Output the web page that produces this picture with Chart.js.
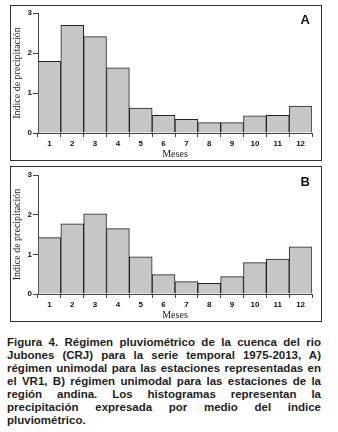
<!DOCTYPE html>
<html>
<head>
<meta charset="utf-8">
<script src="https://cdn.jsdelivr.net/npm/chart.js@4.4.1/dist/chart.umd.min.js"></script>
<style>
  body { margin: 0; width: 338px; height: 432px; background: #fff; position: relative; overflow: hidden; }
  .panel { position: absolute; left: 10px; width: 312px; height: 156px; border: 1px solid #333; box-sizing: border-box; }
  .panel canvas { display: block; }
  #caption { position: absolute; left: 7px; top: 336px; width: 314px; font-family: "Liberation Sans", Arial, sans-serif;
    font-weight: bold; font-size: 11.5px; line-height: 13px; color: #1e1e1e; }
  #caption div { text-align: justify; text-align-last: justify; white-space: nowrap; }
  #caption div.last { text-align-last: left; }
</style>
</head>
<body>
<div class="panel" style="top:5px"><canvas id="chartA" width="310" height="154"></canvas></div>
<div class="panel" style="top:166px"><canvas id="chartB" width="310" height="154"></canvas></div>
<div id="caption">
  <div>Figura 4. Régimen pluviométrico de la cuenca del rio</div>
  <div>Jubones (CRJ) para la serie temporal 1975-2013, A)</div>
  <div>régimen unimodal para las estaciones representadas en</div>
  <div>el VR1, B) régimen unimodal para las estaciones de la</div>
  <div>región andina. Los histogramas representan la</div>
  <div>precipitación expresada por medio del indice</div>
  <div class="last">pluviométrico.</div>
</div>
<script>
// months on the x axis
const months = ["1", "2", "3", "4", "5", "6", "7", "8", "9", "10", "11", "12"];
// indice de precipitacion, panel A and panel B
const valuesA = [1.79, 2.69, 2.41, 1.63, 0.62, 0.44, 0.34, 0.26, 0.26, 0.43, 0.44, 0.67];
const valuesB = [1.42, 1.77, 2.02, 1.65, 0.94, 0.49, 0.31, 0.27, 0.44, 0.79, 0.88, 1.19];
const yTicks = [0, 1, 2, 3];

const panelLetter = {
    id: "panelLetter",
    afterDraw(chart, args, opts) {
        const ctx = chart.ctx;
        ctx.save();
        ctx.font = "bold 13px 'Liberation Sans', Arial, sans-serif";
        ctx.fillStyle = "#111";
        ctx.textAlign = "right";
        ctx.textBaseline = "middle";
        ctx.fillText(opts.text, chart.chartArea.right - 2, opts.y);
        ctx.restore();
    }
};

function makeChart(id, values, letter, padTop, letterY) {
    return new Chart(document.getElementById(id), {
        type: "bar",
        data: {
            labels: months,
            datasets: [{
                data: values,
                backgroundColor: "#c6c6c6",
                borderColor: "#222",
                borderWidth: { top: 1, left: 1, right: 1, bottom: 0 },
                categoryPercentage: 1,
                barPercentage: 1,
            }],
        },
        options: {
            responsive: false,
            animation: false,
            layout: { padding: { top: padTop, right: 9, bottom: 0, left: 0 } },
            plugins: {
                legend: { display: false },
                tooltip: { enabled: false },
                panelLetter: { text: letter, y: letterY },
            },
            scales: {
                x: {
                    grid: { offset: true, drawOnChartArea: false, tickLength: 4, color: "#444" },
                    border: { color: "#444" },
                    ticks: { color: "#111", padding: 2, font: { family: "'Liberation Sans', Arial", size: 8, weight: "bold" } },
                    title: {
                        display: true, text: "Meses", color: "#222", padding: { top: -2, bottom: 0 },
                        font: { family: "'Liberation Serif', 'Times New Roman', serif", size: 10 },
                    },
                    afterFit(scale) { scale.height = 27; },
                },
                y: {
                    min: 0,
                    max: 3,
                    afterBuildTicks(scale) { scale.ticks = yTicks.map(v => ({ value: v })); },
                    grid: { drawOnChartArea: false, tickLength: 5, color: "#444" },
                    border: { color: "#444" },
                    ticks: { color: "#111", padding: 1, font: { family: "'Liberation Sans', Arial", size: 8, weight: "bold" } },
                    title: {
                        display: true, text: "Indice de precipitación", color: "#222", padding: { top: 0, bottom: 0 },
                        font: { family: "'Liberation Serif', 'Times New Roman', serif", size: 10 },
                    },
                    afterFit(scale) { scale.width = 27; },
                },
            },
        },
        plugins: [panelLetter],
    });
}

makeChart("chartA", valuesA, "A", 7, 14);
makeChart("chartB", valuesB, "B", 8, 15);
</script>
</body>
</html>
